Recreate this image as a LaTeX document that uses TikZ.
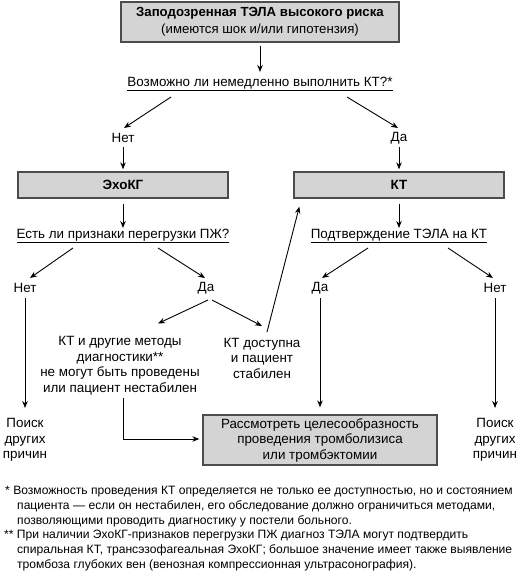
\documentclass[tikz,border=0pt]{standalone}
\usepackage{fontspec}
\setmainfont{Liberation Sans}
\usetikzlibrary{arrows.meta,calc}
\tikzset{
  graybox/.style={draw=black!70, line width=1.3pt, fill=black!17, inner sep=0pt, align=center},
  lbl/.style={inner sep=1pt, align=center, font=\fontsize{13.4}{15.5}\selectfont},
  arr/.style={line width=0.9pt, -{Stealth[length=7pt,width=5.5pt]}},
  fn/.style={inner sep=0pt, anchor=north west, align=left, font=\fontsize{12.1}{14.8}\selectfont}
}
\begin{document}
\begin{tikzpicture}[x=1pt,y=-1pt]
\useasboundingbox (0,0) rectangle (531,577);
% nodes
\node[graybox, minimum width=278pt, minimum height=40pt, font=\fontsize{13.2}{17}\selectfont] (top) at (260,22)
  {\textbf{Заподозренная ТЭЛА высокого риска}\\(имеются шок и/или гипотензия)};
\node[lbl] (q1) at (260,84) {\underline{Возможно ли немедленно выполнить КТ?*}};
\node[lbl] (no1) at (123,138) {Нет};
\node[lbl] (yes1) at (399,138) {Да};
\node[graybox, minimum width=210pt, minimum height=26pt, font=\fontsize{13.4}{15.5}\selectfont\bfseries] (echo) at (123,185) {ЭхоКГ};
\node[graybox, minimum width=210pt, minimum height=26pt, font=\fontsize{13.4}{15.5}\selectfont\bfseries] (ct) at (399,185) {КТ};
\node[lbl] (q2) at (123,236) {\underline{Есть ли признаки перегрузки ПЖ?}};
\node[lbl] (q3) at (399,236) {\underline{Подтверждение ТЭЛА на КТ}};
\node[lbl] (no2) at (25,288) {Нет};
\node[lbl] (yes2) at (206,288) {Да};
\node[lbl] (yes3) at (320,288) {Да};
\node[lbl] (no3) at (495,288) {Нет};
\node[lbl] (m1) at (120,365.5) {КТ и другие методы\\диагностики**\\не могут быть проведены\\или пациент нестабилен};
\node[lbl] (m2) at (262,358) {КТ доступна\\и пациент\\стабилен};
\node[lbl] (s1) at (25,440) {Поиск\\других\\причин};
\node[lbl] (s2) at (495,440) {Поиск\\других\\причин};
\node[graybox, minimum width=234pt, minimum height=50pt, font=\fontsize{13.4}{15.5}\selectfont] (res) at (320,440)
  {Рассмотреть целесообразность\\проведения тромболизиса\\или тромбэктомии};
\node[fn] (f1) at (5,486) {* Возможность проведения КТ определяется не только ее доступностью, но и состоянием\\
\hspace*{12pt}пациента — если он нестабилен, его обследование должно ограничиться методами,\\
\hspace*{12pt}позволяющими проводить диагностику у постели больного.};
\node[fn] (f2) at (4,530) {** При наличии ЭхоКГ-признаков перегрузки ПЖ диагноз ТЭЛА могут подтвердить\\
\hspace*{13pt}спиральная КТ, трансэзофагеальная ЭхоКГ; большое значение имеет также выявление\\
\hspace*{13pt}тромбоза глубоких вен (венозная компрессионная ультрасонография).};
% connectors
\draw[arr] ($(top.south)+(0,3)$) -- ($(q1)+(0,-12)$);
\draw[arr] ($(q1)+(-89,13)$) -- ($(no1)+(1,-10)$);
\draw[arr] ($(q1)+(87,13)$) -- ($(yes1)+(-1,-10)$);
\draw[arr] ($(no1)+(0,9)$) -- ($(echo.north)+(0,-2)$);
\draw[arr] ($(yes1)+(0,9)$) -- ($(ct.north)+(0,-2)$);
\draw[arr] ($(echo.south)+(0,5)$) -- ($(q2)+(0,-8)$);
\draw[arr] ($(ct.south)+(0,5)$) -- ($(q3)+(0,-8)$);
\draw[arr] ($(q2)+(-50,12)$) -- ($(no2)+(5,-10)$);
\draw[arr] ($(q2)+(35,12)$) -- ($(yes2)+(-1,-10)$);
\draw[arr] ($(q3)+(-31,12)$) -- ($(yes3)+(2,-10)$);
\draw[arr] ($(q3)+(49,12)$) -- ($(no3)+(-2,-10)$);
\draw[arr] ($(yes2)+(2,12)$) -- ($(m1)+(38,-42)$);
\draw[arr] ($(yes2)+(6,12)$) -- ($(m2)+(0,-32)$);
\draw[arr] ($(m2)+(5,-26)$) -- ($(ct.south west)+(6,8)$);
\draw[arr] ($(no2)+(0,10)$) -- ($(s1)+(0,-32)$);
\draw[arr] ($(yes3)+(0,10)$) -- ($(res.north)+(0,-7)$);
\draw[arr] ($(no3)+(0,10)$) -- ($(s2)+(0,-32)$);
\draw[arr] ($(m1)+(3,32.5)$) |- ($(res.west)+(-3,-1)$);
\end{tikzpicture}
\end{document}
